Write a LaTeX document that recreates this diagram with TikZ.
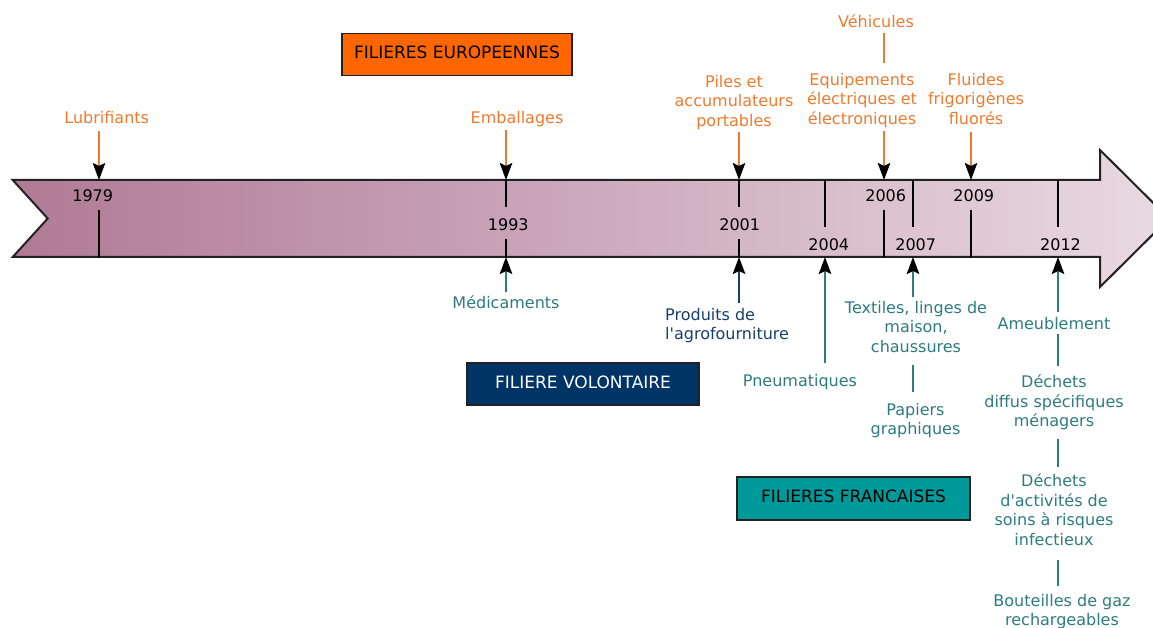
\documentclass[tikz,border=0pt]{standalone}
\usepackage{fontspec}
\setmainfont{DejaVu Sans}
\usetikzlibrary{arrows.meta}
\definecolor{otext}{HTML}{EE7A30}
\definecolor{ttext}{HTML}{2E7B80}
\definecolor{ntext}{HTML}{173F6E}
\definecolor{boxorange}{HTML}{FF6600}
\definecolor{boxnavy}{HTML}{003366}
\definecolor{boxteal}{HTML}{009999}
\definecolor{bodyleft}{HTML}{B07A95}
\definecolor{bodyright}{HTML}{E9DAE1}
\definecolor{edge}{HTML}{222222}
\begin{document}
\begin{tikzpicture}[x=1pt,y=-1pt,
  lbl/.style={font=\fontsize{16}{19.5}\selectfont, inner sep=0pt, align=center},
  olbl/.style={lbl, text=otext},
  tlbl/.style={lbl, text=ttext},
  nlbl/.style={lbl, text=ntext},
  year/.style={font=\fontsize{16}{19.5}\selectfont, inner sep=0pt, anchor=base, text=black},
  tick/.style={line width=2pt, black},
  tip/.style={-{Stealth[length=17pt,width=12.5pt,inset=3pt,color=black,fill=black]}},
  oarr/.style={tip, line width=2pt, draw=otext},
  tarr/.style={tip, line width=2pt, draw=ttext},
  narr/.style={tip, line width=2pt, draw=ntext},
  oline/.style={line width=2pt, draw=otext},
  tline/.style={line width=2pt, draw=ttext},
  catbox/.style={draw=edge, line width=1.5pt, minimum width=230pt, minimum height=42pt,
    font=\fontsize{17}{20}\selectfont, text height=12.5pt, text depth=4.5pt, inner sep=0pt}
]
\useasboundingbox (0,0) rectangle (1153,628);
\clip (0,0) rectangle (1153,628);

% timeline arrow body
\path[left color=bodyleft, right color=bodyright, draw=edge, line width=2pt, line join=miter]
  (12.7,180) -- (1100,180) -- (1100,150) -- (1169,218.5) -- (1100,287) -- (1100,257)
  -- (12.7,257) -- (47.7,218.5) -- cycle;

% year anchor coordinates (top / bottom edge of body)
\coordinate (t79) at (99,180);   \coordinate (b79) at (99,257);
\coordinate (t93) at (506,180);  \coordinate (b93) at (506,257);
\coordinate (t01) at (739,180);  \coordinate (b01) at (739,257);
\coordinate (t04) at (825,180);  \coordinate (b04) at (825,257);
\coordinate (t06) at (884,180);  \coordinate (b06) at (884,257);
\coordinate (t07) at (913,180);  \coordinate (b07) at (913,257);
\coordinate (t09) at (971,180);  \coordinate (b09) at (971,257);
\coordinate (t12) at (1058,180); \coordinate (b12) at (1058,257);

% ticks
\draw[tick] (99,210) -- (b79);
\draw[tick] (t93) -- (506,207) (506,239) -- (b93);
\draw[tick] (t01) -- (739,207) (739,239) -- (b01);
\draw[tick] (t04) -- (825,227);
\draw[tick] (884,210) -- (b06);
\draw[tick] (t07) -- (913,227);
\draw[tick] (971,210) -- (b09);
\draw[tick] (t12) -- (1058,227);

% years
\node[year] (y79) at (92.7,202) {1979};
\node[year] (y93) at (508.3,231) {1993};
\node[year] (y01) at (739.7,231) {2001};
\node[year] (y04) at (828.8,251) {2004};
\node[year] (y06) at (885.7,202) {2006};
\node[year] (y07) at (915.7,251) {2007};
\node[year] (y09) at (973.8,202) {2009};
\node[year] (y12) at (1060.5,251) {2012};

% category boxes
\node[catbox, fill=boxorange, text=black] (eu) at (457,54.5) {FILIERES EUROPEENNES};
\node[catbox, fill=boxnavy, text=white, minimum width=232pt] (vol) at (583,384) {FILIERE VOLONTAIRE};
\node[catbox, fill=boxteal, text=black, minimum width=233pt, minimum height=43pt] (fr) at (853.5,498.5) {FILIERES FRANCAISES};

% European labels
\node[olbl, anchor=base] (lub) at (106.7,124) {Lubrifiants};
\node[olbl, anchor=base] (emb) at (517,124) {Emballages};
\node[olbl, anchor=north] (piles) at (734,74.8) {Piles et\\accumulateurs\\portables};
\node[olbl, anchor=base] (veh) at (876,28) {Véhicules};
\node[olbl, anchor=north] (equip) at (862,72.8) {Equipements\\électriques et\\électroniques};
\node[olbl, anchor=north] (flu) at (976,72.8) {Fluides\\frigorigènes\\fluorés};

\draw[oarr, shorten <=7pt] (lub.south -| t79) -- (t79);
\draw[oarr, shorten <=2pt] (emb.south -| t93) -- (t93);
\draw[oarr, shorten <=2.6pt] (piles.south -| t01) -- (t01);
\draw[oline, shorten <=5pt, shorten >=9.8pt] (veh.south -| t06) -- (equip.north -| t06);
\draw[oarr, shorten <=3.6pt] (equip.south -| t06) -- (t06);
\draw[oarr, shorten <=7.4pt] (flu.south -| t09) -- (t09);

% French / voluntary labels
\node[tlbl, anchor=base] (med) at (506,308) {Médicaments};
\node[nlbl, anchor=north west, align=left] (prod) at (665,307.8) {Produits de\\l\textquotesingle agrofourniture};
\node[tlbl, anchor=base] (pneu) at (800,386) {Pneumatiques};
\node[tlbl, anchor=north] (tex) at (916,300.8) {Textiles, linges de\\maison,\\chaussures};
\node[tlbl, anchor=north] (pap) at (915.5,402.8) {Papiers\\graphiques};
\node[tlbl, anchor=base] (ameu) at (1054,329) {Ameublement};
\node[tlbl, anchor=north] (ddiff) at (1054,374.8) {Déchets\\diffus spécifiques\\ménagers};
\node[tlbl, anchor=north] (dact) at (1054,473.8) {Déchets\\d\textquotesingle activités de\\soins à risques\\infectieux};
\node[tlbl, anchor=north] (bout) at (1062,593.8) {Bouteilles de gaz\\rechargeables};

\draw[tarr, shorten <=2.8pt] (med.north -| b93) -- (b93);
\draw[narr, shorten <=4.8pt] (prod.north -| b01) -- (b01);
\draw[tarr, shorten <=10.8pt] (pneu.north -| b04) -- (b04);
\draw[tarr, shorten <=3.8pt] (tex.north -| b07) -- (b07);
\draw[tline, shorten <=12.4pt, shorten >=10.8pt] (tex.south -| b07) -- (pap.north -| b07);
\draw[tarr, shorten <=4.8pt] (ameu.north -| b12) -- (b12);
\draw[tline, shorten <=5pt, shorten >=8.8pt] (ameu.south -| b12) -- (ddiff.north -| b12);
\draw[tline, shorten <=8.6pt, shorten >=6.8pt] (ddiff.south -| b12) -- (dact.north -| b12);
\draw[tline, shorten <=14pt, shorten >=7.8pt] (dact.south -| b12) -- (bout.north -| b12);
\end{tikzpicture}
\end{document}
